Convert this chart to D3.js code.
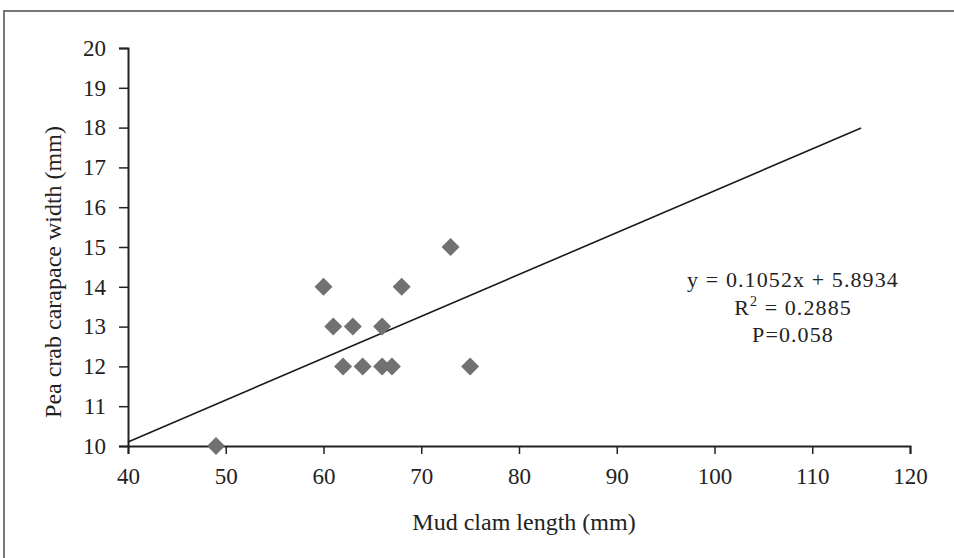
<!DOCTYPE html>
<html><head><meta charset="utf-8">
<script src="https://cdn.jsdelivr.net/npm/d3@7/dist/d3.min.js"></script>
<style>body{margin:0;background:#fff}svg{display:block}text{font-family:"Liberation Serif",serif;fill:#222}</style>
</head><body><svg id="c" width="954" height="558"></svg>
<script>
const clamLength = [49,60,61,62,63,64,66,66,67,68,73,75];
const crabWidth  = [10,14,13,12,13,12,13,12,12,14,15,12];
const xTicks = [40,50,60,70,80,90,100,110,120];
const yTicks = [10,11,12,13,14,15,16,17,18,19,20];
const slope = 0.1052, intercept = 5.8934;
const trendRange = [40,115];
const eqLines = ["y = 0.1052x + 5.8934","R\u00b2 = 0.2885","P=0.058"];

const svg = d3.select("#c");
svg.append("rect").attr("x",4).attr("y",11).attr("width",960).attr("height",560)
  .attr("fill","none").attr("stroke","#777").attr("stroke-width",2);

const x = d3.scaleLinear().domain([40,120]).range([128,910]);
const y = d3.scaleLinear().domain([10,20]).range([446,48]);

const tickFs = 23, eqFs = 22, titleFs = 24;
const gx = svg.append("g").attr("transform",`translate(0,${y(10)})`)
  .call(d3.axisBottom(x).tickValues(xTicks).tickSize(8).tickPadding(14));
const gy = svg.append("g").attr("transform",`translate(${x(40)},0)`)
  .call(d3.axisLeft(y).tickValues(yTicks).tickSize(9).tickPadding(13));
[gx,gy].forEach(g=>{
  g.select(".domain").attr("stroke","#222").attr("stroke-width",2);
  g.selectAll(".tick line").attr("stroke","#222").attr("stroke-width",1.5);
  g.selectAll(".tick text").attr("font-family","Liberation Serif").attr("font-size",tickFs).attr("fill","#222");
});

svg.append("line").attr("x1",x(trendRange[0])).attr("y1",y(slope*trendRange[0]+intercept))
  .attr("x2",x(trendRange[1])).attr("y2",y(slope*trendRange[1]+intercept))
  .attr("stroke","#1a1a1a").attr("stroke-width",1.6);

const pts = clamLength.map((v,i)=>({x:v,y:crabWidth[i]}));
svg.append("g").selectAll("path").data(pts).join("path")
  .attr("d","M0,-9L9,0L0,9L-9,0Z")
  .attr("transform",d=>`translate(${x(d.x)},${y(d.y)})`)
  .attr("fill","#717171");

const cx = 793;
const eqG = svg.append("g").attr("font-size",eqFs).attr("letter-spacing",1.1);
eqG.append("text").attr("x",cx).attr("y",287).attr("text-anchor","middle").text(eqLines[0]);
const r2 = eqG.append("text").attr("x",cx).attr("y",315).attr("text-anchor","middle");
r2.append("tspan").text("R");
r2.append("tspan").text("2").attr("font-size",14).attr("dy",-9);
r2.append("tspan").text(eqLines[1].slice(2)).attr("dy",9);
eqG.append("text").attr("x",cx).attr("y",342).attr("text-anchor","middle").text(eqLines[2]);

svg.append("text").attr("x",524).attr("y",530).attr("text-anchor","middle").attr("font-size",titleFs).text("Mud clam length (mm)");
svg.append("text").attr("transform","translate(61,272) rotate(-90)").attr("text-anchor","middle").attr("font-size",titleFs).text("Pea crab carapace width (mm)");
</script></body></html>
